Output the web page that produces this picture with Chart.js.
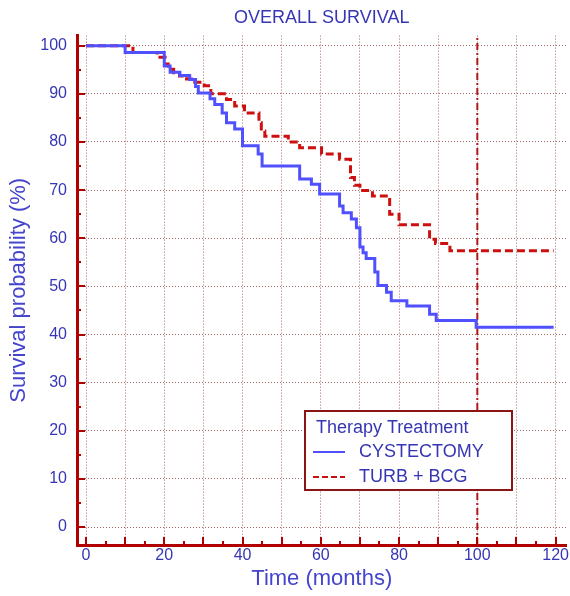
<!DOCTYPE html>
<html><head><meta charset="utf-8">
<script src="https://cdn.jsdelivr.net/npm/chart.js@4.4.1/dist/chart.umd.min.js"></script>
<style>html,body{margin:0;padding:0;background:#fff;overflow:hidden}canvas{display:block}</style>
</head><body>
<canvas id="c" width="570" height="596"></canvas>
<script>
// ---- data ----
const cystTimes = [0,10,20,21.5,24,26.5,28,28.7,31.7,32.9,34.8,35.9,38,40,44,45,54.6,57.6,59.7,64.8,65.7,67.8,69.1,70,70.8,71.6,73.8,74.6,76.8,78,82,87.8,89.5,99.7,119.5];
const cystSurv  = [100,98.6,95.8,94.5,93.8,93,91.5,90.2,89,87.8,86,84,82.7,79.2,77.5,75,72.3,71.2,69.2,66.7,65.3,64,62.2,58.2,57,55.8,53,50.2,48.8,47,45.9,44.2,42.9,41.5,41.5];
const turbTimes = [0,12,18.2,20.2,21,22.4,23.9,25.7,27.8,30.2,31.9,35.9,38,40.5,44.2,44.8,45.7,51.7,54.6,60.2,64.8,67.6,68.6,70,73.2,77.6,80,87.8,89.3,93,119.5];
const turbSurv  = [100,98.6,97.6,96.2,95.1,94.4,93.7,93.1,92.4,91.7,90,88.8,87.5,86,84,82.3,81.2,80,78.8,77.5,76.4,72.6,71,69.9,68.8,65,62.8,59.8,58.9,57.4,57.4];
const seriesNames = ['CYSTECTOMY','TURB + BCG'];
const legendTitle = 'Therapy Treatment';
const xTickValues = [0,10,20,30,40,50,60,70,80,90,100,110,120];
const yTickValues = [0,10,20,30,40,50,60,70,80,90,100];
const markerTime = 100;
const X_MIN = -2.3, X_MAX = 122.8, Y_MIN = -3.73, Y_MAX = 102.1;

const FONT = "'Liberation Sans', Arial, sans-serif";
const BLUE_LINE = '#5050ff';
const RED_LINE = '#cc1010';
const AXIS_RED = '#b00000';
const TXT_BLUE = '#3636b4';

const toPts = (t, s) => t.map((v, i) => ({x: v, y: s[i]}));

const inwardTicks = {
  id: 'inwardTicks',
  afterDatasetsDraw(chart) {
    const {ctx, chartArea: a, scales: {x, y}} = chart;
    ctx.save();
    ctx.strokeStyle = AXIS_RED; ctx.lineWidth = 2;
    const xs = [];
    xTickValues.forEach((v, i) => { xs.push([v, 8]); if (i < xTickValues.length - 1) xs.push([(v + xTickValues[i+1]) / 2, 4]); });
    xs.forEach(([v, len]) => { const p = Math.round(x.getPixelForValue(v)); ctx.beginPath(); ctx.moveTo(p, a.bottom); ctx.lineTo(p, a.bottom - len); ctx.stroke(); });
    const ys = [];
    yTickValues.forEach((v, i) => { ys.push([v, 8]); if (i < yTickValues.length - 1) ys.push([(v + yTickValues[i+1]) / 2, 4]); });
    ys.forEach(([v, len]) => { const p = Math.round(y.getPixelForValue(v)); ctx.beginPath(); ctx.moveTo(a.left, p); ctx.lineTo(a.left + len, p); ctx.stroke(); });
    ctx.restore();
  }
};

const boxLegend = {
  id: 'boxLegend',
  afterDraw(chart) {
    const ctx = chart.ctx;
    const L = 305, T = 411, W = 207, H = 79;
    ctx.save();
    ctx.fillStyle = '#fff'; ctx.fillRect(L, T, W, H);
    ctx.strokeStyle = '#8b1414'; ctx.lineWidth = 2; ctx.strokeRect(L, T, W, H);
    ctx.font = '18px ' + FONT; ctx.fillStyle = TXT_BLUE; ctx.textBaseline = 'middle'; ctx.textAlign = 'left';
    ctx.fillText(legendTitle, 316, 428);
    const ds = chart.data.datasets;
    [[0, 452], [1, 477]].forEach(([i, yy]) => {
      ctx.beginPath(); ctx.strokeStyle = ds[i].borderColor; ctx.lineWidth = 2;
      ctx.setLineDash(i === 0 ? [] : [6, 3]);
      ctx.moveTo(313, yy); ctx.lineTo(345, yy); ctx.stroke();
      ctx.setLineDash([]);
      ctx.fillStyle = TXT_BLUE; ctx.fillText(seriesNames[i], 359, yy);
    });
    ctx.restore();
  }
};

new Chart(document.getElementById('c'), {
  type: 'line',
  data: {
    datasets: [
      {label: seriesNames[0], data: toPts(cystTimes, cystSurv), borderColor: BLUE_LINE, borderWidth: 3, stepped: 'before', pointRadius: 0, fill: false},
      {label: seriesNames[1], data: toPts(turbTimes, turbSurv), borderColor: RED_LINE, borderWidth: 3, borderDash: [8, 4], stepped: 'before', pointRadius: 0, fill: false},
      {label: 'marker', data: [{x: markerTime, y: Y_MIN}, {x: markerTime, y: Y_MAX}], borderColor: '#b01818', borderWidth: 2, borderDash: [7, 3, 2, 3], pointRadius: 0, fill: false}
    ]
  },
  options: {
    responsive: false, animation: false, devicePixelRatio: 1,
    layout: {padding: {left: 0, right: 3, top: 0, bottom: 0}},
    plugins: {
      legend: {display: false}, tooltip: {enabled: false},
      title: {display: true, text: 'OVERALL SURVIVAL', fullSize: false, color: TXT_BLUE,
              font: {family: FONT, size: 18, weight: 'normal'}, padding: {top: 7, bottom: 7}}
    },
    scales: {
      x: {
        type: 'linear', min: X_MIN, max: X_MAX,
        afterBuildTicks: s => { s.ticks = xTickValues.map(v => ({value: v})); },
        afterFit: s => { s.height = 51; },
        grid: {color: '#a86868', lineWidth: 1, drawTicks: false},
        border: {display: true, color: AXIS_RED, width: 3, dash: [1, 2]},
        ticks: {color: TXT_BLUE, font: {family: FONT, size: 16}, padding: 1, maxRotation: 0, autoSkip: false,
                callback: v => (v % 20 === 0 ? String(v) : '')},
        title: {display: true, text: 'Time (months)', color: '#4444cc', font: {family: FONT, size: 22}, padding: {top: 0, bottom: 4}}
      },
      y: {
        type: 'linear', min: Y_MIN, max: Y_MAX,
        afterBuildTicks: s => { s.ticks = yTickValues.map(v => ({value: v})); },
        afterFit: s => { s.width = 77; },
        grid: {color: '#a86868', lineWidth: 1, drawTicks: false},
        border: {display: true, color: AXIS_RED, width: 3, dash: [1, 2]},
        ticks: {color: TXT_BLUE, font: {family: FONT, size: 16}, padding: 10, autoSkip: false,
                callback: v => String(v)},
        title: {display: true, text: 'Survival probability (%)', color: '#4444cc', font: {family: FONT, size: 22}, padding: {top: 6, bottom: 0}}
      }
    }
  },
  plugins: [inwardTicks, boxLegend]
});
</script>
</body></html>
